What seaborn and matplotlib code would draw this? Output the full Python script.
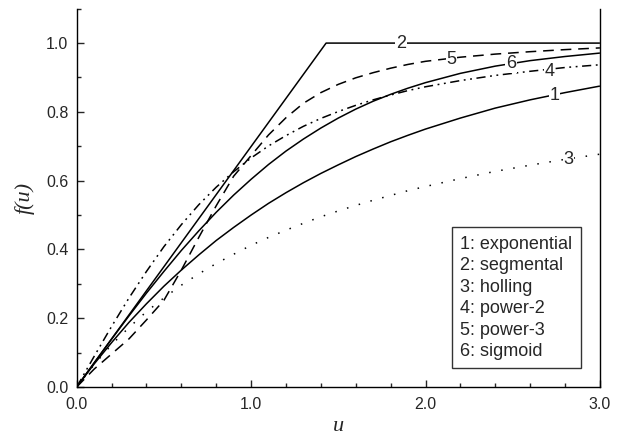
import numpy as np
import pandas as pd
import matplotlib
matplotlib.use("Agg")
import matplotlib.pyplot as plt
from matplotlib.ticker import MultipleLocator, FormatStrFormatter
import seaborn as sns

# ---- data ----
u = [0.0, 0.1, 0.2, 0.3, 0.4, 0.5, 0.6, 0.7, 0.8, 0.9, 1.0, 1.1, 1.2, 1.3, 1.4,
     1.5, 1.6, 1.7, 1.8, 1.9, 2.0, 2.2, 2.4, 2.6, 2.8, 3.0]
f_exponential = [0.0, 0.067, 0.129, 0.188, 0.242, 0.293, 0.340, 0.384, 0.426, 0.464,
                 0.500, 0.534, 0.565, 0.594, 0.621, 0.646, 0.670, 0.692, 0.713, 0.732,
                 0.750, 0.782, 0.811, 0.835, 0.856, 0.875]
f_holling = [0.0, 0.065, 0.123, 0.173, 0.219, 0.259, 0.296, 0.329, 0.359, 0.386,
             0.412, 0.435, 0.456, 0.476, 0.495, 0.512, 0.528, 0.543, 0.557, 0.571,
             0.583, 0.606, 0.627, 0.645, 0.662, 0.677]
f_power2 = [0.0, 0.089, 0.176, 0.259, 0.336, 0.408, 0.472, 0.530, 0.581, 0.626,
            0.666, 0.701, 0.731, 0.758, 0.781, 0.801, 0.819, 0.835, 0.849, 0.862,
            0.873, 0.891, 0.906, 0.918, 0.929, 0.937]
f_power3 = [0.0, 0.052, 0.096, 0.140, 0.195, 0.252, 0.340, 0.435, 0.527, 0.613,
            0.673, 0.733, 0.783, 0.825, 0.856, 0.880, 0.899, 0.914, 0.927, 0.938,
            0.947, 0.959, 0.968, 0.975, 0.981, 0.986]
f_sigmoid = [0.0, 0.070, 0.139, 0.207, 0.273, 0.336, 0.397, 0.454, 0.508, 0.558,
             0.604, 0.647, 0.686, 0.721, 0.753, 0.782, 0.808, 0.831, 0.851, 0.869,
             0.885, 0.912, 0.933, 0.949, 0.961, 0.971]
u_segmental = [0.0, 1.43, 3.0]
f_segmental = [0.0, 1.0, 1.0]

legend_labels = ["1: exponential", "2: segmental", "3: holling",
                 "4: power-2", "5: power-3", "6: sigmoid"]
curve_numbers = ["1", "2", "3", "4", "5", "6"]

# ---- style ----
sns.set_style("ticks")
plt.rcParams["font.family"] = ["Liberation Sans", "DejaVu Sans"]
plt.rcParams["xtick.direction"] = "in"
plt.rcParams["ytick.direction"] = "in"

fig = plt.figure(figsize=(6.17, 4.44), dpi=100)
ax = fig.add_axes([0.1243, 0.1284, 0.848, 0.852])

lw = 1.1
styles = {
    0: (0, ()),                       # solid
    1: (0, ()),                       # solid
    2: (0, (1, 7)),                   # dotted
    3: (0, (6, 3, 1.2, 3, 1.2, 3)),   # dash-dot-dot
    4: (0, (7, 4.5)),                 # dashed
    5: (0, ()),                       # solid
}

series = [
    (u, f_exponential),
    (u_segmental, f_segmental),
    (u, f_holling),
    (u, f_power2),
    (u, f_power3),
    (u, f_sigmoid),
]

for i, (xs, ys) in enumerate(series):
    df = pd.DataFrame({"u": xs, "f": ys})
    sns.lineplot(data=df, x="u", y="f", ax=ax, color="black", linewidth=lw,
                 linestyle=styles[i], label=legend_labels[i], sort=False)

# curve number labels placed on the curves
label_pos = {
    "1": (2.74, 0.848),
    "2": (1.86, 1.0),
    "3": (2.82, 0.662),
    "4": (2.71, 0.917),
    "5": (2.15, 0.952),
    "6": (2.49, 0.941),
}
for num in curve_numbers:
    x, y = label_pos[num]
    ax.text(x, y, num, ha="center", va="center", fontsize=13,
            bbox=dict(facecolor="white", edgecolor="none", pad=0.5))

ax.set_xlim(0, 3.0)
ax.set_ylim(0, 1.1)
ax.xaxis.set_major_locator(MultipleLocator(1.0))
ax.xaxis.set_minor_locator(MultipleLocator(0.2))
ax.yaxis.set_major_locator(MultipleLocator(0.2))
ax.yaxis.set_minor_locator(MultipleLocator(0.1))
ax.xaxis.set_major_formatter(FormatStrFormatter("%.1f"))
ax.yaxis.set_major_formatter(FormatStrFormatter("%.1f"))
ax.tick_params(which="major", length=5, width=1, labelsize=11.5)
ax.tick_params(axis="x", which="major", pad=7)
ax.tick_params(axis="y", which="major", pad=6)
ax.tick_params(which="minor", length=3, width=1)
ax.tick_params(top=False, right=False)
for s in ax.spines.values():
    s.set_linewidth(1.0)
    s.set_color("black")
ax.spines["top"].set_visible(False)

ax.set_xlabel("u", fontsize=16, fontstyle="italic", family="Liberation Serif", labelpad=4)
ax.set_ylabel("f(u)", fontsize=16, fontstyle="italic", family="Liberation Serif", labelpad=8)

leg = ax.legend(loc="lower right", bbox_to_anchor=(0.963, 0.0495), borderaxespad=0,
                handlelength=0, handletextpad=0, fontsize=13, frameon=True,
                fancybox=False, borderpad=0.45, labelspacing=0.25)
for h in leg.legend_handles:
    h.set_visible(False)
leg.get_frame().set_edgecolor("black")
leg.get_frame().set_linewidth(1.0)

fig.savefig("out.png", dpi=100)
